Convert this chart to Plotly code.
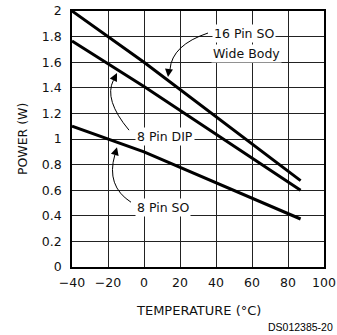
import plotly.graph_objects as go

# Data
temp_16so = [-40, 0, 87]
power_16so = [2.0, 1.6, 0.675]
temp_dip = [-40, 0, 87]
power_dip = [1.765, 1.41, 0.6]
temp_so = [-40, 0, 87]
power_so = [1.1, 0.9, 0.375]

x_ticks = [-40, -20, 0, 20, 40, 60, 80, 100]
y_ticks = [0, 0.2, 0.4, 0.6, 0.8, 1.0, 1.2, 1.4, 1.6, 1.8, 2.0]
y_ticktext = ["0", "0.2", "0.4", "0.6", "0.8", "1", "1.2", "1.4", "1.6", "1.8", "2"]

FONT = "DejaVu Sans"
fig = go.Figure()
for t, p in [(temp_16so, power_16so), (temp_dip, power_dip), (temp_so, power_so)]:
    fig.add_trace(go.Scatter(x=t, y=p, mode="lines", line=dict(color="black", width=3),
                             showlegend=False, hoverinfo="skip"))

# leader curves (quadratic) : start, control, end in data coords
leaders = [
    ((35.56, 1.828), (15.56, 1.734), (14.44, 1.544), (13.33, 1.484), 1, -8),
    ((-8.33, 1.069), (-22.5, 1.308), (-17.0, 1.459), (-15.0, 1.515), -3.6, 7.1),
    ((-7.22, 0.506), (-21.2, 0.633), (-16.2, 0.876), (-15.0, 0.936), -2.2, 7.7),
]
shapes = []
annotations = []
for p0, c, p2, tip, ax, ay in leaders:
    shapes.append(dict(type="path", xref="x", yref="y",
                       path=f"M {p0[0]},{p0[1]} Q {c[0]},{c[1]} {p2[0]},{p2[1]}",
                       line=dict(color="black", width=1)))
    annotations.append(dict(x=tip[0], y=tip[1], xref="x", yref="y", text="", showarrow=True,
                            ax=ax, ay=ay, arrowhead=2, arrowsize=1.6, arrowwidth=1,
                            arrowcolor="black", standoff=0))

labels = [
    ("16 Pin SO", 55.6, 1.828),
    ("Wide Body", 57.2, 1.671),
    ("8 Pin DIP", 11.67, 1.022),
    ("8 Pin SO", 10.28, 0.467),
]
for txt, x, y in labels:
    annotations.append(dict(x=x, y=y, xref="x", yref="y", text=txt, showarrow=False,
                            bgcolor="white", borderpad=1,
                            font=dict(family=FONT, size=12.5, color="#111")))

annotations.append(dict(x=0.5, y=-0.169, xref="paper", yref="paper", text="TEMPERATURE (°C)",
                        showarrow=False, xanchor="center", yanchor="middle",
                        font=dict(family=FONT, size=13, color="#111")))
annotations.append(dict(x=-0.198, y=0.5, xref="paper", yref="paper", text="POWER (W)",
                        showarrow=False, textangle=-90, xanchor="center", yanchor="middle",
                        font=dict(family=FONT, size=12.5, color="#111")))
annotations.append(dict(x=0.905, y=-0.236, xref="paper", yref="paper", text="DS012385-20",
                        showarrow=False, xanchor="center", yanchor="middle",
                        font=dict(family="Liberation Sans", size=10.5, color="black")))

fig.update_layout(
    width=337, height=335,
    margin=dict(l=72, r=13, t=11, b=68),
    paper_bgcolor="white", plot_bgcolor="white",
    shapes=shapes, annotations=annotations,
    font=dict(family=FONT, size=12, color="black"),
)
fig.update_xaxes(range=[-40, 100], tickvals=x_ticks, showgrid=True, gridcolor="#222", gridwidth=1,
                 showline=True, linecolor="black", linewidth=1.5, mirror=True, zeroline=False,
                 automargin=False,
                 ticks="", ticklabelstandoff=3, tickfont=dict(family=FONT, size=12.5, color="#111"))
fig.update_yaxes(range=[0, 2], tickvals=y_ticks, ticktext=y_ticktext, showgrid=True,
                 gridcolor="#222", gridwidth=1, automargin=False,
                 showline=True, linecolor="black", linewidth=1.5, mirror=True, zeroline=False,
                 ticks="", ticklabelstandoff=6, tickfont=dict(family=FONT, size=12.5, color="#111"))

fig.write_html("out.html", config={"displayModeBar": False},
               post_script="document.body.style.margin='0';document.body.style.overflow='hidden';")
